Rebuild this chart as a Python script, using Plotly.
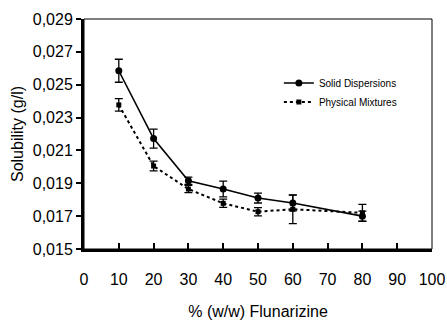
import plotly.graph_objects as go

flunarizine_pct = [10, 20, 30, 40, 50, 60, 80]
sd_solubility = [0.02585, 0.02172, 0.01915, 0.01865, 0.01810, 0.01780, 0.01700]
sd_error = [0.00070, 0.00058, 0.00022, 0.00048, 0.00030, 0.00048, 0.00030]
pm_solubility = [0.02377, 0.02005, 0.01865, 0.01778, 0.01727, 0.01742, 0.01720]
pm_error = [0.00038, 0.00030, 0.00022, 0.00025, 0.00025, 0.00088, 0.00052]

x_ticks = [0, 10, 20, 30, 40, 50, 60, 70, 80, 90, 100]
y_ticks = [0.015, 0.017, 0.019, 0.021, 0.023, 0.025, 0.027, 0.029]

FONT = "Liberation Sans, Arial, sans-serif"

fig = go.Figure()
fig.add_trace(go.Scatter(
    x=flunarizine_pct, y=sd_solubility, name="Solid Dispersions",
    mode="lines+markers",
    line=dict(color="black", width=1.6),
    marker=dict(symbol="circle", size=7, color="black"),
    error_y=dict(type="data", array=sd_error, color="black", thickness=1.3, width=4),
))
fig.add_trace(go.Scatter(
    x=flunarizine_pct, y=pm_solubility, name="Physical Mixtures",
    mode="lines+markers",
    line=dict(color="black", width=2, dash="dot"),
    marker=dict(symbol="square", size=5, color="black"),
    error_y=dict(type="data", array=pm_error, color="black", thickness=1.3, width=4),
))

fig.update_layout(
    width=447, height=320,
    margin=dict(l=84, r=15, t=19, b=71, autoexpand=False),
    paper_bgcolor="white", plot_bgcolor="white",
    separators=",.",
    font=dict(family=FONT, color="black", size=16),
    showlegend=True,
    legend=dict(x=0.56, y=0.785, xanchor="left", yanchor="top",
                font=dict(size=10, family=FONT), bgcolor="rgba(0,0,0,0)",
                tracegroupgap=6, itemwidth=30),
    xaxis=dict(range=[0, 100], tickvals=x_ticks, ticks="inside", ticklen=6, tickwidth=2,
               tickcolor="black", showline=True, linewidth=3, linecolor="black",
               showgrid=False, zeroline=False, automargin=False, ticklabelstandoff=14,
               title=dict(text="% (w/w) Flunarizine", font=dict(size=16), standoff=24),
               tickfont=dict(size=16)),
    yaxis=dict(range=[0.015, 0.029], tickvals=y_ticks, tickformat=".3f", ticks="outside",
               ticklen=5, tickwidth=2, tickcolor="black", showline=True, linewidth=3,
               linecolor="black", showgrid=False, zeroline=False, automargin=False,
               title=dict(text="Solubility (g/l)", font=dict(size=16), standoff=6),
               tickfont=dict(size=16)),
    shapes=[dict(type="rect", xref="paper", yref="paper", x0=0, y0=0, x1=1, y1=1,
                 line=dict(color="black", width=1), layer="below")],
)

fig.write_html("out.html")
